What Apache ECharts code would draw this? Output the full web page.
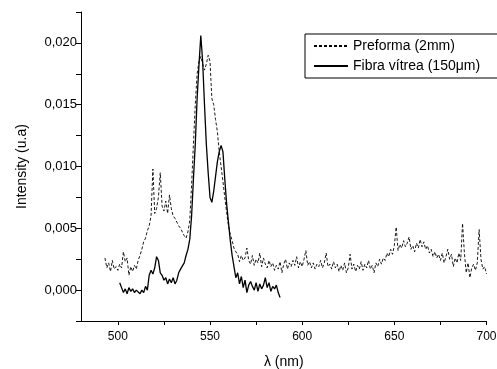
<!DOCTYPE html>
<html><head><meta charset="utf-8">
<script src="https://cdn.jsdelivr.net/npm/echarts@6/dist/echarts.min.js"></script>
<style>html,body{margin:0;padding:0;background:#fff}#c{width:497px;height:369px}</style>
</head><body><div id="c"></div>
<script>
// Preforma (2mm): wavelength start 493 nm, step 1 nm
const preformaStart = 493;
const preformaValues = [
0.0026,0.0018,0.0022,0.0015,0.0024,0.0017,0.0019,0.0016,0.0021,0.0018,
0.0031,0.0023,0.0026,0.0012,0.0019,0.0015,0.0020,0.0017,0.0024,0.0028,
0.0033,0.0039,0.0042,0.0048,0.0052,0.0060,0.0098,0.0062,0.0066,0.0075,
0.0095,0.0068,0.0064,0.0072,0.0062,0.0077,0.0066,0.0060,0.0058,0.0055,
0.0052,0.0050,0.0047,0.0044,0.0042,0.0047,0.0056,0.0085,0.0118,0.0150,
0.0175,0.0185,0.0189,0.0183,0.0178,0.0183,0.0190,0.0185,0.0155,0.0150,
0.0138,0.0128,0.0112,0.0100,0.0088,0.0075,0.0063,0.0052,0.0045,0.0040,
0.0034,0.0031,0.0029,0.0023,0.0028,0.0024,0.0026,0.0034,0.0024,0.0021,
0.0028,0.0020,0.0025,0.0022,0.0030,0.0019,0.0026,0.0021,0.0018,0.0024,
0.0019,0.0022,0.0016,0.0020,0.0017,0.0023,0.0014,0.0021,0.0025,0.0017,
0.0022,0.0019,0.0024,0.0020,0.0027,0.0018,0.0023,0.0019,0.0025,0.0032,
0.0020,0.0023,0.0018,0.0022,0.0017,0.0021,0.0019,0.0024,0.0018,0.0022,
0.0030,0.0019,0.0021,0.0017,0.0023,0.0018,0.0021,0.0015,0.0020,0.0016,
0.0022,0.0014,0.0018,0.0029,0.0017,0.0021,0.0015,0.0020,0.0017,0.0023,
0.0016,0.0021,0.0018,0.0024,0.0017,0.0020,0.0014,0.0022,0.0019,0.0025,
0.0021,0.0026,0.0024,0.0030,0.0027,0.0033,0.0029,0.0036,0.0051,0.0032,
0.0037,0.0034,0.0040,0.0035,0.0038,0.0043,0.0033,0.0036,0.0031,0.0038,
0.0034,0.0041,0.0035,0.0039,0.0033,0.0036,0.0030,0.0033,0.0027,0.0031,
0.0026,0.0029,0.0024,0.0030,0.0022,0.0027,0.0033,0.0025,0.0029,0.0019,
0.0026,0.0022,0.0030,0.0024,0.0054,0.0030,0.0014,0.0022,0.0010,0.0018,
0.0021,0.0016,0.0022,0.0049,0.0025,0.0017,0.0019,0.0013
];
// Fibra vítrea (150 µm): wavelength start 501 nm, step 1 nm
const fibraStart = 501;
const fibraValues = [
0.0006,0.0002,-0.0002,0.0001,-0.0003,0.0002,-0.0001,0.0001,-0.0002,0.0000,
0.0001,-0.0003,0.0000,-0.0002,0.0003,0.0000,0.0012,0.0016,0.0013,0.0018,
0.0027,0.0024,0.0014,0.0012,0.0008,0.0010,0.0005,0.0009,0.0006,0.0010,
0.0005,0.0008,0.0014,0.0017,0.0016,0.0022,0.0028,0.0033,0.0041,0.0060,
0.0090,0.0118,0.0155,0.0182,0.0206,0.0185,0.0150,0.0118,0.0095,0.0075,
0.0071,0.0080,0.0092,0.0104,0.0112,0.0117,0.0112,0.0090,0.0070,0.0055,
0.0040,0.0028,0.0019,0.0010,0.0014,0.0005,0.0011,0.0002,0.0008,-0.0002,
0.0004,0.0007,0.0003,0.0000,0.0006,-0.0001,0.0005,0.0001,0.0004,0.0010,
0.0002,0.0006,-0.0001,0.0003,0.0001,0.0004,-0.0002,-0.0006
];
const seriesNames = ['Preforma (2mm)', 'Fibra vítrea (150\u03bcm)'];
const xTickValues = [500,525,550,575,600,625,650,675,700];
const xLabelValues = [500,550,600,650,700];

const preformaData = preformaValues.map((v,i)=>[preformaStart+i, v]);
const fibraData = fibraValues.map((v,i)=>[fibraStart+i, v]);

const font = 'Liberation Sans, Arial, sans-serif';
const chart = echarts.init(document.getElementById('c'));
chart.setOption({
  animation:false,
  backgroundColor:'#fff',
  grid:{left:81,right:10.5,top:12,bottom:48,containLabel:false,outerBoundsMode:'none'},
  legend:{
    orient:'vertical', left:305, top:34,
    borderColor:'#000', borderWidth:1, padding:[5,19,5,8],
    itemGap:6, itemWidth:34, itemHeight:12,
    itemStyle:{color:'transparent', borderWidth:0, opacity:0},
    textStyle:{fontFamily:font,fontSize:14,color:'#000'},
    data:seriesNames
  },
  xAxis:{
    type:'value', min:480, max:700,
    name:'\u03bb (nm)', nameLocation:'middle', nameGap:34,
    nameTextStyle:{fontFamily:font,fontSize:14,color:'#000'},
    axisLine:{onZero:false,lineStyle:{color:'#000',width:1}},
    axisTick:{show:true,inside:false,length:4,lineStyle:{color:'#000'},customValues:xTickValues},
    axisLabel:{fontFamily:font,fontSize:12,color:'#000',margin:10,customValues:xLabelValues},
    splitLine:{show:false}
  },
  yAxis:{
    type:'value', min:-0.0025, max:0.0225, interval:0.0025,
    name:'Intensity (u.a)', nameLocation:'middle', nameGap:52,
    nameTextStyle:{fontFamily:font,fontSize:14,color:'#000'},
    axisLine:{show:true,onZero:false,lineStyle:{color:'#000',width:1}},
    axisTick:{show:true,inside:false,length:5,lineStyle:{color:'#000'}},
    axisLabel:{fontFamily:font,fontSize:13,color:'#000',margin:4,
      formatter:function(v){
        const k = Math.round(v/0.005);
        if (Math.abs(k*0.005 - v) > 1e-9 || v < -1e-9) return '';
        return (k*0.005).toFixed(3).replace('.', ',');
      }},
    splitLine:{show:false}
  },
  series:[
    {name:seriesNames[0], type:'line', data:preformaData, showSymbol:false, symbol:'none',
     lineStyle:{color:'#000',width:0.9,type:[3,2]}, itemStyle:{color:'#000'}},
    {name:seriesNames[1], type:'line', data:fibraData, showSymbol:false, symbol:'none',
     lineStyle:{color:'#000',width:1.3,type:'solid'}, itemStyle:{color:'#000'}}
  ]
});
</script></body></html>
